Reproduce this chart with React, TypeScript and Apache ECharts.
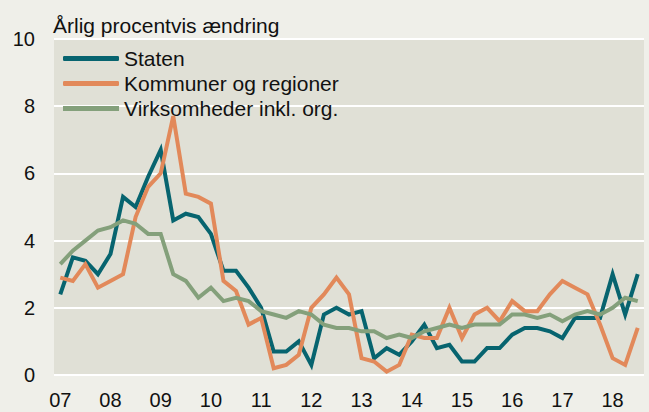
import React, { useEffect, useRef } from "react";
import * as echarts from "echarts";

const years = ["07", "08", "09", "10", "11", "12", "13", "14", "15", "16", "17", "18"];
const quarters = ["K1", "K2", "K3", "K4"];
const lastYearQuarters = 3;

const yTicks = [0, 2, 4, 6, 8, 10];

const staten = [
  2.4, 3.5, 3.4, 3.0, 3.6, 5.3, 5.0, 5.9, 6.7, 4.6, 4.8, 4.7,
  4.2, 3.1, 3.1, 2.6, 2.0, 0.7, 0.7, 1.0, 0.3, 1.8, 2.0, 1.8,
  1.9, 0.5, 0.8, 0.6, 1.0, 1.5, 0.8, 0.9, 0.4, 0.4, 0.8, 0.8,
  1.2, 1.4, 1.4, 1.3, 1.1, 1.7, 1.7, 1.7, 3.0, 1.8, 3.0,
];

const kommuner = [
  2.9, 2.8, 3.3, 2.6, 2.8, 3.0, 4.7, 5.6, 6.0, 7.7, 5.4, 5.3,
  5.1, 2.8, 2.5, 1.5, 1.7, 0.2, 0.3, 0.6, 2.0, 2.4, 2.9, 2.4,
  0.5, 0.4, 0.1, 0.3, 1.2, 1.1, 1.1, 2.0, 1.1, 1.8, 2.0, 1.6,
  2.2, 1.9, 1.9, 2.4, 2.8, 2.6, 2.4, 1.5, 0.5, 0.3, 1.4,
];

const virksomheder = [
  3.3, 3.7, 4.0, 4.3, 4.4, 4.6, 4.5, 4.2, 4.2, 3.0, 2.8, 2.3,
  2.6, 2.2, 2.3, 2.2, 1.9, 1.8, 1.7, 1.9, 1.8, 1.5, 1.4, 1.4,
  1.3, 1.3, 1.1, 1.2, 1.1, 1.3, 1.4, 1.5, 1.4, 1.5, 1.5, 1.5,
  1.8, 1.8, 1.7, 1.8, 1.6, 1.8, 1.9, 1.8, 2.0, 2.3, 2.2,
];

const seriesNames = ["Staten", "Kommuner og regioner", "Virksomheder inkl. org."];
const colors = ["#07646f", "#e2895a", "#84a07b"];
const titleText = "Årlig procentvis ændring";

const categories: string[] = [];
years.forEach((y, yi) => {
  const n = yi === years.length - 1 ? lastYearQuarters : quarters.length;
  for (let q = 0; q < n; q++) categories.push(y + quarters[q]);
});

const FONT = "'Liberation Sans', Arial, Helvetica, sans-serif";

export default function App() {
  const ref = useRef<HTMLDivElement>(null);
  useEffect(() => {
    if (!ref.current) return;
    const chart = echarts.init(ref.current, undefined, { renderer: "svg" });
    const data = [staten, kommuner, virksomheder];
    chart.setOption({
      animation: false,
      backgroundColor: "#efefe9",
      textStyle: { fontFamily: FONT },
      graphic: [
        {
          type: "text",
          left: 53,
          top: 15,
          style: { text: titleText, fontSize: 21, fontFamily: FONT, fill: "#111" },
        },
      ],
      legend: {
        orient: "vertical",
        left: 63,
        top: 48,
        padding: 0,
        itemWidth: 56,
        itemHeight: 5,
        itemGap: 4,
        textStyle: { fontSize: 21, color: "#111", fontFamily: FONT },
        data: seriesNames.map((n, i) => ({ name: n, icon: i === 2 ? "rect" : "roundRect" })),
      },
      grid: {
        left: 54,
        right: 5,
        top: 39,
        bottom: 37,
        show: true,
        backgroundColor: "#e0e0d6",
        borderWidth: 0,
      },
      xAxis: {
        type: "category",
        data: categories,
        boundaryGap: true,
        axisLine: { show: false },
        axisTick: { show: false },
        axisLabel: {
          interval: 3,
          formatter: (v: string) => v.slice(0, 2),
          fontSize: 20,
          color: "#111",
          margin: 15,
          fontFamily: FONT,
        },
        splitLine: { show: false },
      },
      yAxis: {
        type: "value",
        min: yTicks[0],
        max: yTicks[yTicks.length - 1],
        interval: 2,
        axisLine: { show: false },
        axisTick: { show: false },
        axisLabel: { fontSize: 20, color: "#111", margin: 19, fontFamily: FONT },
        splitLine: { show: true, lineStyle: { color: "#ffffff", width: 2 } },
      },
      series: seriesNames.map((n, i) => ({
        name: n,
        type: "line",
        data: data[i],
        symbol: "none",
        color: colors[i],
        lineStyle: { width: 4, color: colors[i], join: "miter" },
      })),
    });
    return () => chart.dispose();
  }, []);
  return (
    <div
      ref={ref}
      style={{ position: "fixed", left: 0, top: 0, width: 649, height: 412 }}
    />
  );
}
